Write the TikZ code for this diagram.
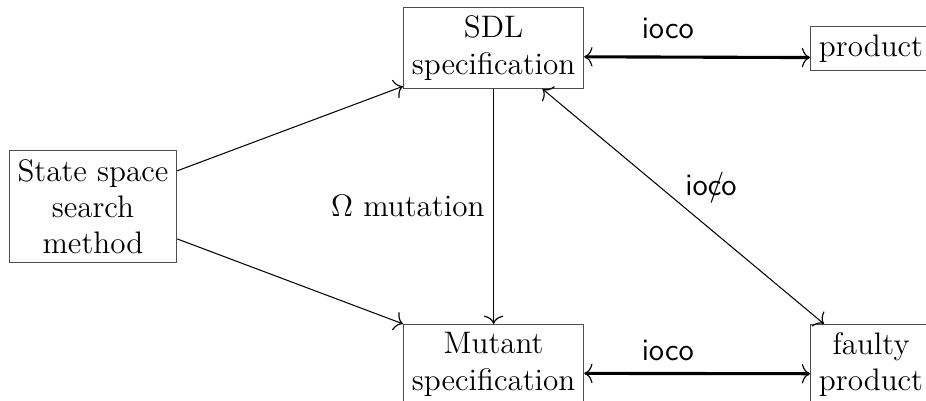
\documentclass[tikz,border=0pt]{standalone}
\usepackage{amsmath, amssymb}
\usepackage{tikz}
\usetikzlibrary{arrows.meta, positioning}
\definecolor{boxGray}{gray}{0.3}
\tikzset{
    block/.style={draw=boxGray, align=center, font=\large, inner sep=3.2pt},
    rel/.style={font=\large\sffamily}
}

\begin{document}
\begin{tikzpicture}[scale=1.0, >={To[length=3.2pt, width=7.5pt, line width=0.45pt]}]
    \clip (0,0) rectangle (12.55,5.43);
    \useasboundingbox (0,0) rectangle (12.55,5.43);

    \node[block] (sdl) at (6.69,4.78) {SDL\\specification};
    \node[block, anchor=west] (prod) at (10.98,4.77) {product};
    \node[block] (search) at (1.26,2.63) {State space\\search\\method};
    \node[block, anchor=north] (mutant) at (6.69,1.04) {Mutant\\specification};
    \node[block, anchor=north west] (faulty) at (10.98,1.04) {faulty\\product};

    \draw[->] (search.23) -- ([yshift=1pt]sdl.south west);
    \draw[->] (search.-21) -- (mutant.north west);
    \draw[->] (sdl.south) -- (mutant.north) node[midway, left, font=\large] {$\Omega$ mutation};

    \draw[<->, very thick] ([yshift=-0.12cm]sdl.east) -- ([yshift=-0.12cm]prod.west)
        node[pos=0.37, above, rel, yshift=3pt] {ioco};
    \draw[<->, very thick] ([yshift=-0.12cm]mutant.east) -- ([yshift=-0.12cm]faulty.west)
        node[pos=0.37, above, rel, yshift=1pt] {ioco};
    \draw[<->] (sdl.-40) -- (faulty.139)
        node[pos=0.42, right, rel, xshift=6pt] {io\rlap{\kern0.5pt/}co};
\end{tikzpicture}
\end{document}
